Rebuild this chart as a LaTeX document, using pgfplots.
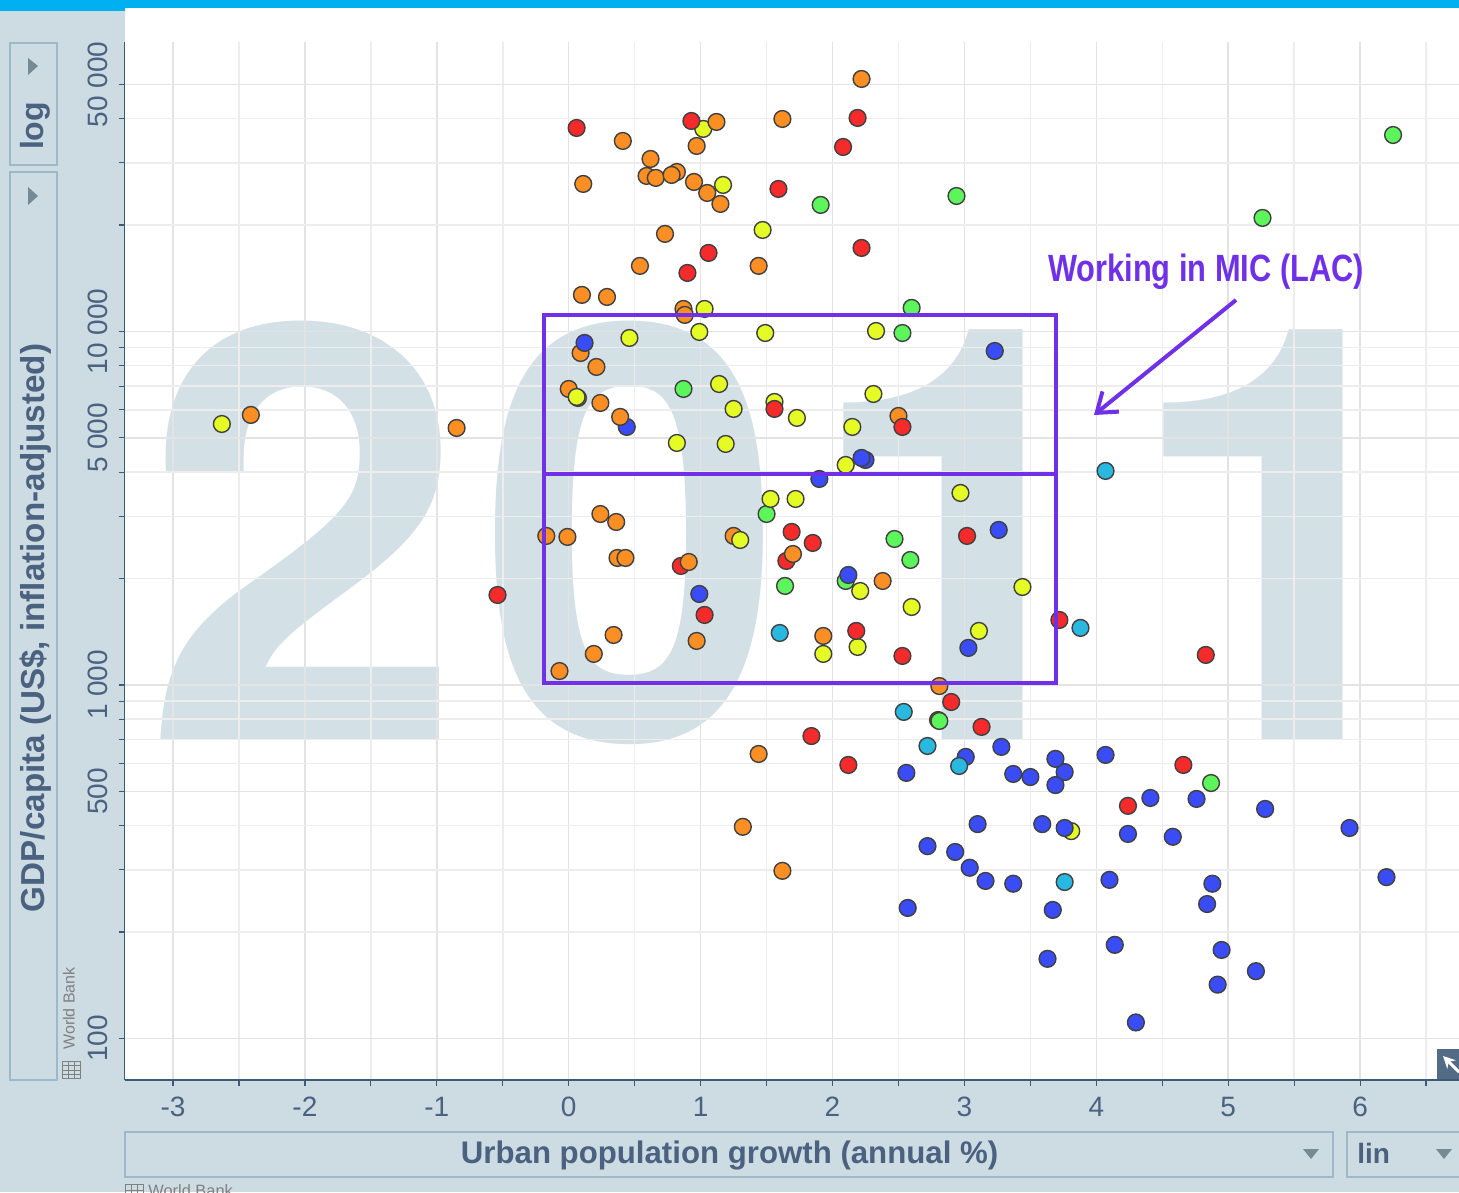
\documentclass[border=0pt]{standalone}
\usepackage{fontspec}
\setmainfont{Liberation Sans}
\newfontfamily\yearfont{TeX Gyre Heros}
\usepackage{pgfplots}
\pgfplotsset{compat=1.18}
\usetikzlibrary{arrows.meta}

\definecolor{panel}{HTML}{CDDBE3}
\definecolor{topbar}{HTML}{00B0F0}
\definecolor{ghost}{HTML}{D3E0E6}
\definecolor{frame}{HTML}{9DB8C8}
\definecolor{axisblue}{HTML}{3F5A78}
\definecolor{ink}{HTML}{4A6280}
\definecolor{violet}{HTML}{7030E8}
\definecolor{dred}{HTML}{F52A2A}
\definecolor{dorange}{HTML}{FB8F24}
\definecolor{dyellow}{HTML}{E4FC24}
\definecolor{dgreen}{HTML}{5CF55C}
\definecolor{dcyan}{HTML}{28B8E0}
\definecolor{dblue}{HTML}{3A4CF5}

\pgfplotsset{
  dot/.style={only marks, mark=*, mark size=4.2pt,
    mark options={draw=black!75, line width=0.7pt, fill=#1}},
}

\begin{document}
\begin{tikzpicture}
\useasboundingbox (0,0) rectangle (729.5pt,-596pt);
\clip (0,0) rectangle (729.5pt,-596pt);

% page, panels, ghost year (1 unit = 1 reference pixel)
\begin{scope}[x=0.5pt,y=-0.5pt]
  \fill[panel] (0,0) rectangle (1459,1192);
  \fill[white] (125,8) rectangle (1459,1080);
  \fill[topbar] (0,0) rectangle (1459,8);
  \fill[topbar] (0,0) rectangle (125,11);
  \draw[frame, line width=1pt] (10,43) rectangle (57,165);
  \draw[frame, line width=1pt] (10,172) rectangle (57,1080);
  \draw[frame, line width=1pt] (125,1132) rectangle (1333,1177);
  \draw[frame, line width=1pt] (1347,1132) rectangle (1470,1177);
  \fill[frame!75!black] (28,58) -- (38,66) -- (28,75) -- cycle;
  \fill[frame!75!black] (28,187) -- (38,196) -- (28,205) -- cycle;
  \fill[frame!75!black] (1303,1149) -- (1319,1149) -- (1311,1159) -- cycle;
  \fill[frame!75!black] (1436,1149) -- (1452,1149) -- (1444,1159) -- cycle;
  \begin{scope}[every node/.style={inner sep=0pt, anchor=base, text=ghost,
      font=\yearfont\fontsize{289}{289}\selectfont\bfseries}]
    \node at (304,739) {2};
    \node[xscale=0.95] at (632,739) {0};
    \node at (965,739) {1};
    \node at (1285,739) {1};
  \end{scope}
\end{scope}

\begin{axis}[
  at={(62.25pt,-540pt)}, anchor=south west,
  scale only axis, width=667.25pt, height=519pt,
  ymode=log,
  xmin=-3.368, xmax=6.750, ymin=76.3, ymax=65900,
  axis x line=bottom, axis y line=left,
  axis line style={-, color=axisblue, line width=0.8pt},
  xtick={-3,-2,-1,0,1,2,3,4,5,6},
  xticklabels={-3,-2,-1,0,1,2,3,4,5,6},
  minor xtick={-2.5,-1.5,-0.5,0.5,1.5,2.5,3.5,4.5,5.5,6.5},
  ytick={100,500,1000,5000,10000,50000},
  yticklabels={100,500,1 000,5 000,10 000,50 000},
  minor ytick={200,300,400,600,700,800,900,2000,3000,4000,6000,7000,8000,9000,20000,30000,40000},
  grid=both,
  major grid style={color=black!11, line width=0.75pt},
  minor grid style={color=black!7, line width=0.75pt},
  tick align=outside,
  major tick length=3pt, minor tick length=3pt,
  tick style={color=axisblue, line width=0.6pt},
  tick label style={font=\fontsize{14}{14}\selectfont, text=ink, inner sep=0pt},
  xticklabel style={yshift=-5.5pt},
  yticklabel style={rotate=90, anchor=south, yshift=5pt},
  xlabel={Urban population growth (annual \%)},
  ylabel={GDP/capita (US\$, inflation-adjusted)},
  every axis x label/.style={at={(axis description cs:0.4534,-0.0732)}, anchor=center,
    font=\fontsize{15.6}{15.6}\selectfont\bfseries, text=ink},
  every axis y label/.style={at={(axis description cs:-0.0664,0.4355)}, anchor=center, rotate=90,
    font=\fontsize{16.6}{16.6}\selectfont\bfseries, text=ink},
]
% red dots lying under other dots
\addplot[dot=dred] coordinates {(2.80,796) (0.85,2171) (1.65,2243)};
% green
\addplot[dot=dgreen] coordinates {
  (6.25,35960) (5.26,20950) (2.94,24170) (1.91,22800) (2.60,11660) (2.53,9900) (0.87,6877)
  (1.50,3045) (2.47,2588) (2.59,2257) (1.64,1906) (2.10,1969) (2.81,791) (4.87,528)};
% orange lying under yellow
\addplot[dot=dorange] coordinates {(0.00,6877) (0.07,6485) (1.25,2640)};
% yellow
\addplot[dot=dyellow] coordinates {
  (1.02,37410) (1.17,25970) (1.47,19370) (1.03,11580) (0.99,9968) (1.49,9900) (2.33,10030)
  (0.46,9585) (1.14,7102) (0.06,6527) (1.25,6037) (1.56,6318) (1.73,5694) (2.31,6655)
  (2.15,5369) (0.82,4837) (1.19,4806) (2.10,4192) (1.53,3359) (1.72,3359) (2.97,3493)
  (1.30,2571) (2.21,1844) (2.60,1662) (3.44,1893) (3.11,1422) (2.19,1281) (1.93,1224)
  (3.81,386) (-2.63,5473)};
% blue lying under orange
\addplot[dot=dblue] coordinates {(0.44,5369)};
% orange
\addplot[dot=dorange] coordinates {
  (2.22,51800) (1.12,39150) (1.62,39920) (0.41,34590) (0.97,33480) (0.62,30760) (0.82,28260)
  (0.59,27540) (0.66,27190) (0.78,27720) (0.11,26140) (0.95,26480) (1.05,24650) (1.15,22950)
  (0.73,18880) (0.54,15330) (1.44,15330) (0.10,12690) (0.29,12520) (0.87,11580) (0.88,11140)
  (0.09,8692) (0.21,7937) (0.24,6278) (0.39,5731) (2.50,5768) (-2.41,5806) (-0.85,5333)
  (0.24,3045) (0.36,2891) (-0.17,2640) (-0.01,2623) (0.37,2287) (0.43,2287) (0.91,2228)
  (1.70,2347) (2.38,1969) (0.34,1385) (0.97,1332) (1.93,1376) (0.19,1224) (-0.07,1095)
  (2.81,993) (1.44,638) (1.32,397) (1.62,298)};
% red
\addplot[dot=dred] coordinates {
  (0.06,37650) (0.93,39400) (2.19,40180) (2.08,33260) (1.59,25300) (2.22,17230) (1.06,16680)
  (0.90,14640) (1.56,6037) (2.53,5369) (1.69,2710) (1.85,2522) (3.02,2640) (-0.54,1797)
  (1.03,1578) (2.18,1422) (2.53,1208) (3.72,1527) (2.90,895) (3.13,761) (1.84,717)
  (2.12,594) (4.24,455) (4.66,594) (4.83,1216)};
% blue
\addplot[dot=dblue] coordinates {
  (0.12,9279) (3.23,8806) (2.25,4330) (2.22,4387) (1.90,3826) (3.26,2745) (2.12,2047)
  (0.99,1809) (3.03,1273) (3.28,668) (3.01,626) (3.76,567) (3.69,618) (3.37,560) (3.50,549)
  (3.69,521) (4.07,634) (2.56,564) (3.10,404) (3.59,404) (3.76,394) (4.24,379) (2.72,350)
  (2.93,337) (3.04,304) (3.16,279) (3.37,274) (4.10,281) (2.57,234) (3.67,231) (4.41,479)
  (4.76,476) (5.28,446) (5.92,394) (4.58,372) (6.20,286) (4.88,274) (4.84,240) (4.14,184)
  (4.95,178) (3.63,168) (5.21,155) (4.92,142) (4.30,111)};
% cyan
\addplot[dot=dcyan] coordinates {
  (4.07,4031) (1.60,1403) (3.88,1450) (2.54,839) (2.72,672) (2.96,590) (3.76,277)};
\end{axis}

\begin{scope}[x=0.5pt,y=-0.5pt]
  % controls and source notes
  \node[rotate=90, text=ink, font=\fontsize{16}{16}\selectfont\bfseries, inner sep=0pt] at (35,126) {log};
  \node[anchor=west, text=ink, font=\fontsize{14}{14}\selectfont\bfseries, inner sep=0pt] at (1357,1153) {lin};
  \node[rotate=90, anchor=west, text=black!50, font=\fontsize{8}{8}\selectfont, inner sep=0pt] at (69,1050) {World Bank};
  \node[anchor=base west, text=black!50, font=\fontsize{8.2}{8.2}\selectfont, inner sep=0pt] at (148,1196) {World Bank};
  \draw[black!50, line width=0.4pt] (62,1061) rectangle (80,1078);
  \foreach \yy in {1065,1070,1074} \draw[black!50, line width=0.4pt] (62,\yy) -- (80,\yy);
  \foreach \xx in {68,74} \draw[black!50, line width=0.4pt] (\xx,1061) -- (\xx,1078);
  \draw[black!50, line width=0.4pt] (125,1184) rectangle (143,1200) (125,1190) -- (143,1190) (131,1184) -- (131,1200) (137,1184) -- (137,1200);
  % corner button
  \fill[axisblue!90] (1437,1049) rectangle (1459,1079);
  \draw[white, line width=1.5pt, -{Stealth[length=6pt,width=6pt]}] (1459,1072) -- (1443,1056);
  % annotation
  \draw[violet, line width=2pt] (544,315) rectangle (1056,683);
  \draw[violet, line width=2pt] (544,474) -- (1056,474);
  \draw[violet, line width=2pt, -{Straight Barb[length=9pt,width=13pt]}] (1236,300) -- (1094,415);
  \node[violet, anchor=base, xscale=0.81, inner sep=0pt, font=\fontsize{19}{19}\selectfont\bfseries] at (1206,282) {Working in MIC (LAC)};
\end{scope}
\end{tikzpicture}
\end{document}
